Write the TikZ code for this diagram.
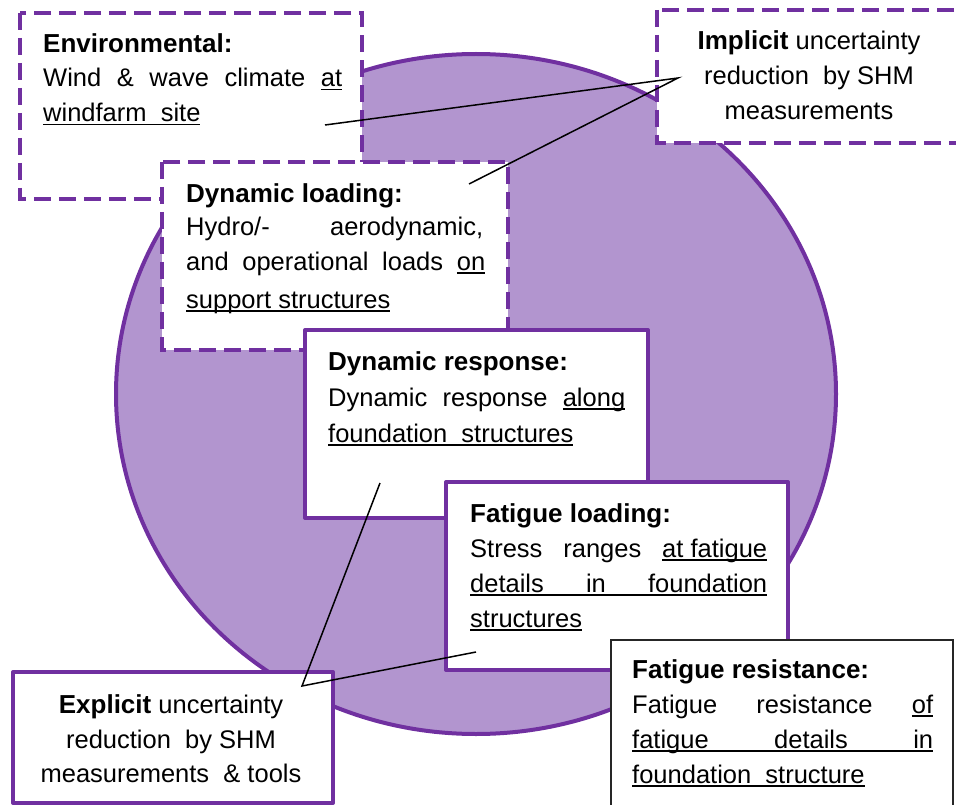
\documentclass[tikz,border=0pt]{standalone}
\usepackage{fontspec}
\setmainfont{Liberation Sans}
\definecolor{frame}{HTML}{7030A0}
\definecolor{disc}{HTML}{B295CF}
% underline at a fixed depth below the baseline
\newcommand\ulx[1]{\setbox0=\hbox{#1}\rlap{\rule[-3.5pt]{\wd0}{1.6pt}}\box0}
% justified line of a given width
\newcommand\jl[2]{\hbox to #1{\spaceskip=0.28em plus 1fil\relax #2}}
% bold box heading
\newcommand\hd[1]{{\fontsize{26}{34}\selectfont\bfseries #1}}
\begin{document}
\begin{tikzpicture}[x=1pt,y=-1pt,
  dashbox/.style={draw=frame,fill=white,line width=4.5pt,dash pattern=on 17pt off 8pt},
  solidbox/.style={draw=frame,fill=white,line width=4pt,line join=round},
  resbox/.style={draw=black!85,fill=white,line width=1.8pt},
  txt/.style={anchor=base west,inner sep=0pt,font=\fontsize{25.5}{34}\selectfont},
  ctxt/.style={anchor=base,inner sep=0pt,font=\fontsize{25.5}{34}\selectfont},
  link/.style={draw=black,line width=1.5pt}]
\useasboundingbox (0,0) rectangle (956,805);
\clip (0,0) rectangle (956,805);

% central disc
\draw[draw=frame,fill=disc,line width=4pt] (476,394) ellipse [x radius=360,y radius=340];

% boxes, back to front
\draw[dashbox] (20,13) rectangle (362,199);
\draw[dashbox] (657,10) rectangle (985,143);
\draw[dashbox] (162,162) rectangle (508,350);
\draw[solidbox] (305,330) rectangle (648,518);
\draw[solidbox] (446,482) rectangle (788,670);
\draw[resbox] (611,640) rectangle (953,840);
\draw[solidbox] (13,672) rectangle (333,803);

% Environmental
\node[txt] (env1) at (43,53) {\hd{Environmental:}};
\node[txt] (env2) at (43,87) {\jl{299pt}{Wind \& wave climate \ulx{at}}};
\node[txt] (env3) at (43,122) {\ulx{windfarm\ \ site}};

% Implicit
\node[ctxt] (imp1) at (809,50) {\hd{Implicit} uncertainty};
\node[ctxt] (imp2) at (809,85) {reduction\ \ by SHM};
\node[ctxt] (imp3) at (809,120) {measurements};

% Dynamic loading
\node[txt] (dl1) at (186,203) {\hd{Dynamic loading:}};
\node[txt] (dl2) at (186,236) {\jl{297pt}{Hydro/- aerodynamic,}};
\node[txt] (dl3) at (186,270) {\jl{299pt}{and operational loads \ulx{on}}};
\node[txt] (dl4) at (186,308) {\ulx{support structures}};

% Dynamic response
\node[txt] (dr1) at (328,370) {\hd{Dynamic response:}};
\node[txt] (dr2) at (328,406) {\jl{297pt}{Dynamic response \ulx{along}}};
\node[txt] (dr3) at (328,442) {\ulx{foundation\ \ structures}};

% Fatigue loading
\node[txt] (fl1) at (470,522) {\hd{Fatigue loading:}};
\node[txt] (fl2) at (470,557) {\jl{297pt}{Stress ranges \ulx{at fatigue}}};
\node[txt] (fl3) at (470,592) {\ulx{\jl{297pt}{details in foundation}}};
\node[txt] (fl4) at (470,627) {\ulx{structures}};

% Fatigue resistance
\node[txt] (fr1) at (632,678) {\hd{Fatigue resistance:}};
\node[txt] (fr2) at (632,713) {\jl{301pt}{Fatigue resistance \ulx{of}}};
\node[txt] (fr3) at (632,748) {\ulx{\jl{301pt}{fatigue details in}}};
\node[txt] (fr4) at (632,783) {\ulx{foundation\ \ structure}};

% Explicit
\node[ctxt] (ex1) at (171,713) {\hd{Explicit} uncertainty};
\node[ctxt] (ex2) at (171,748) {reduction\ \ by SHM};
\node[ctxt] (ex3) at (171,782) {measurements\ \ \& tools};

% callout lines
\coordinate (envpt) at (325,125);
\coordinate (imppt) at (678,78);
\coordinate (dlpt) at (469,184);
\coordinate (drpt) at (380,483);
\coordinate (expt) at (302,686);
\coordinate (flpt) at (476,652);
\draw[link] (envpt) -- (imppt) -- (dlpt);
\draw[link] (drpt) -- (expt) -- (flpt);
\end{tikzpicture}
\end{document}
